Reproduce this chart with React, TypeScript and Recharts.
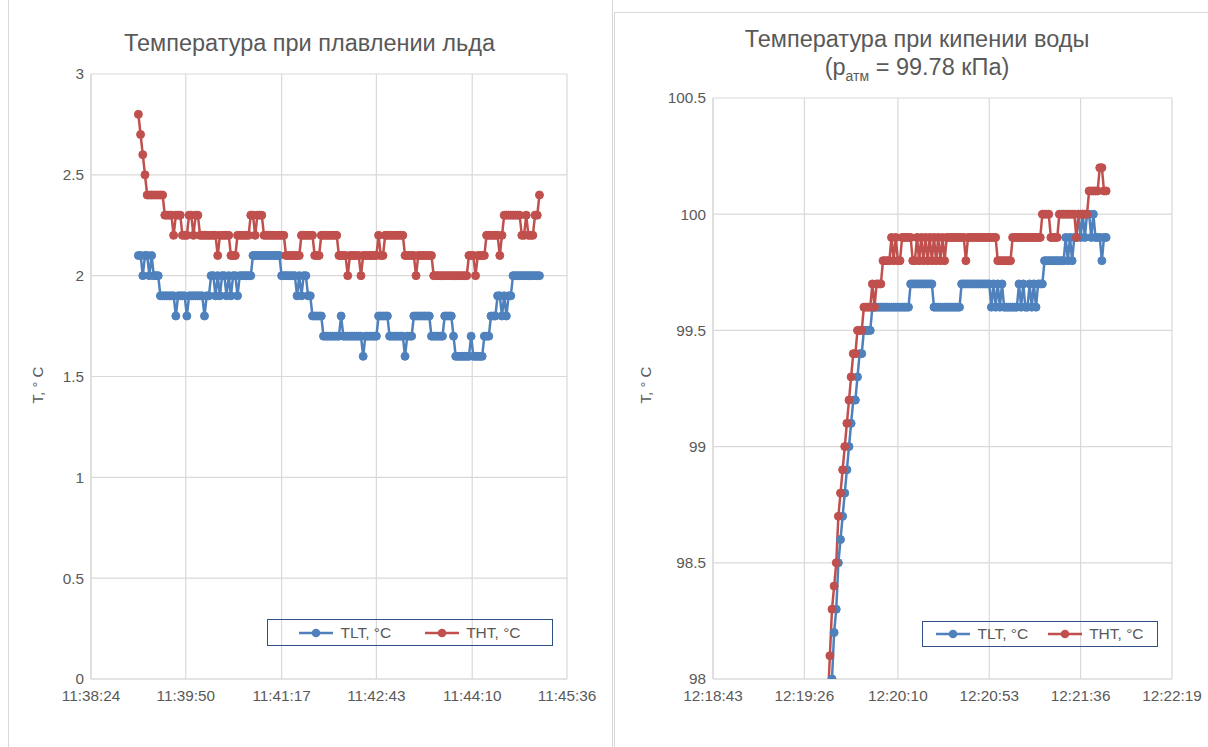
import React from 'react';
import { CartesianGrid, Legend, Line, LineChart, XAxis, YAxis } from 'recharts';

const BLUE = '#4F81BD';
const RED = '#C0504D';
const GRID = '#D9D9D9';
const TEXT = '#595959';
const FONT = '"Liberation Sans", Arial, sans-serif';

// --- ice melting (left chart), logger sampled every 2 s ---
const iceStart = '11:39:07';
const iceStepSec = 2;
const iceTimeTicks = ['11:38:24', '11:39:50', '11:41:17', '11:42:43', '11:44:10', '11:45:36'];
const iceTempTicks = [0, 0.5, 1, 1.5, 2, 2.5, 3];
// [temperature, number of consecutive samples]
const iceTLT: [number, number][] = [
  [2.1, 2], [2.0, 1], [2.1, 2], [2.0, 1], [2.1, 1], [2.0, 3], [1.9, 7], [1.8, 1], [1.9, 4],
  [1.8, 1], [1.9, 7], [1.8, 1], [1.9, 2], [2.0, 2], [1.9, 1], [2.0, 1], [1.9, 1], [2.0, 2],
  [1.9, 1], [2.0, 1], [1.9, 1], [2.0, 2], [1.9, 1], [2.0, 6], [2.1, 13], [2.0, 7], [1.9, 1],
  [2.0, 1], [1.9, 1], [2.0, 2], [1.9, 2], [1.8, 5], [1.7, 8], [1.8, 1], [1.7, 9], [1.6, 1],
  [1.7, 6], [1.8, 5], [1.7, 7], [1.6, 1], [1.7, 3], [1.8, 8], [1.7, 6], [1.8, 4], [1.7, 1],
  [1.6, 7], [1.7, 1], [1.6, 5], [1.7, 3], [1.8, 3], [1.9, 2], [1.8, 1], [1.9, 1], [1.8, 1],
  [1.9, 2], [2.0, 13],
];
const iceTHT: [number, number][] = [
  [2.8, 1], [2.7, 1], [2.6, 1], [2.5, 1], [2.4, 8], [2.3, 4], [2.2, 1], [2.3, 3], [2.2, 3],
  [2.3, 2], [2.2, 1], [2.3, 2], [2.2, 8], [2.1, 1], [2.2, 5], [2.1, 3], [2.2, 6], [2.3, 2],
  [2.2, 1], [2.3, 3], [2.2, 10], [2.1, 7], [2.2, 6], [2.1, 3], [2.2, 8], [2.1, 4], [2.0, 1],
  [2.1, 5], [2.0, 1], [2.1, 7], [2.2, 1], [2.1, 2], [2.2, 9], [2.1, 5], [2.0, 1], [2.1, 7],
  [2.0, 16], [2.1, 3], [2.0, 1], [2.1, 4], [2.2, 6], [2.1, 1], [2.2, 1], [2.3, 8], [2.2, 2],
  [2.3, 1], [2.2, 3], [2.3, 2], [2.4, 1],
];

// --- water boiling (right chart), logger sampled every 1 s ---
const boilStart = '12:19:37';
const boilStepSec = 1;
const boilTimeTicks = ['12:18:43', '12:19:26', '12:20:10', '12:20:53', '12:21:36', '12:22:19'];
const boilTempTicks = [98, 98.5, 99, 99.5, 100, 100.5];
const boilTLT: [number, number][] = [
  [97.8, 1], [97.9, 1], [98.0, 1], [98.2, 1], [98.3, 1], [98.5, 1], [98.6, 1], [98.7, 1],
  [98.8, 1], [98.9, 1], [99.0, 1], [99.1, 1], [99.2, 2], [99.3, 1], [99.4, 2], [99.5, 4],
  [99.6, 18], [99.7, 11], [99.6, 13], [99.7, 14], [99.6, 1], [99.7, 1], [99.6, 1], [99.7, 1],
  [99.6, 1], [99.7, 1], [99.6, 7], [99.7, 1], [99.6, 1], [99.7, 1], [99.6, 2], [99.7, 1],
  [99.6, 1], [99.7, 1], [99.6, 1], [99.7, 3], [99.8, 10], [99.9, 1], [99.8, 1], [99.9, 1],
  [99.8, 1], [99.9, 2], [100.0, 1], [99.9, 1], [100.0, 1], [99.9, 1], [100.0, 2], [99.9, 1],
  [100.0, 1], [99.9, 3], [99.8, 1], [99.9, 2],
];
const boilTHT: [number, number][] = [
  [97.9, 1], [98.1, 1], [98.3, 1], [98.4, 1], [98.5, 1], [98.7, 1], [98.8, 1], [98.9, 1],
  [99.0, 1], [99.1, 1], [99.2, 1], [99.3, 1], [99.4, 2], [99.5, 3], [99.6, 4], [99.7, 1],
  [99.6, 1], [99.7, 3], [99.8, 4], [99.9, 1], [99.8, 1], [99.9, 1], [99.8, 2], [99.9, 5],
  [99.8, 2], [99.9, 1], [99.8, 1], [99.9, 1], [99.8, 1], [99.9, 1], [99.8, 1], [99.9, 1],
  [99.8, 1], [99.9, 1], [99.8, 1], [99.9, 1], [99.8, 1], [99.9, 1], [99.8, 1], [99.9, 9],
  [99.8, 1], [99.9, 14], [99.8, 7], [99.9, 14], [100.0, 4], [99.9, 4], [100.0, 8], [99.9, 1],
  [100.0, 5], [100.1, 5], [100.2, 2], [100.1, 2],
];

const seriesNames = { tlt: 'TLT, °C', tht: 'THT, °C' };

const toSec = (s: string) => {
  const [h, m, sec] = s.split(':').map(Number);
  return h * 3600 + m * 60 + sec;
};
const pad = (n: number) => n.toString().padStart(2, '0');
const fmtTime = (v: number) => {
  const r = Math.round(v);
  return `${Math.floor(r / 3600)}:${pad(Math.floor((r % 3600) / 60))}:${pad(r % 60)}`;
};
const unroll = (runs: [number, number][]) => runs.flatMap(([v, n]) => Array(n).fill(v) as number[]);

function buildRows(start: string, step: number, tlt: [number, number][], tht: [number, number][]) {
  const a = unroll(tlt);
  const b = unroll(tht);
  const t0 = toSec(start);
  const n = Math.max(a.length, b.length);
  return Array.from({ length: n }, (_, i) => ({ t: t0 + i * step, tlt: a[i], tht: b[i] }));
}

const iceRows = buildRows(iceStart, iceStepSec, iceTLT, iceTHT);
const boilRows = buildRows(boilStart, boilStepSec, boilTLT, boilTHT);

const tickStyle = { fill: TEXT, fontSize: 15.3, fontFamily: FONT };

function LegendMark({ color }: { color: string }) {
  return (
    <svg width={34} height={12} style={{ display: 'block' }}>
      <line x1={0} y1={6} x2={34} y2={6} stroke={color} strokeWidth={2.5} />
      <circle cx={17} cy={6} r={4.3} fill={color} />
    </svg>
  );
}

function LegendBox({ gap }: { gap: number }) {
  const items = [
    { color: BLUE, label: seriesNames.tlt },
    { color: RED, label: seriesNames.tht },
  ];
  return (
    <div
      style={{
        boxSizing: 'border-box',
        width: '100%',
        height: '100%',
        border: '1.5px solid #2F4F86',
        display: 'flex',
        alignItems: 'center',
        justifyContent: 'center',
        gap,
        fontFamily: FONT,
        fontSize: 15.5,
        color: TEXT,
      }}
    >
      {items.map((it) => (
        <div key={it.label} style={{ display: 'flex', alignItems: 'center', gap: 7 }}>
          <LegendMark color={it.color} />
          <span>{it.label}</span>
        </div>
      ))}
    </div>
  );
}

interface ChartProps {
  rows: { t: number; tlt?: number; tht?: number }[];
  timeTicks: string[];
  tempTicks: number[];
  width: number;
  height: number;
  margin: { top: number; right: number; bottom: number; left: number };
  legend: { left: number; top: number; width: number; height: number; gap: number };
}

function TempChart({ rows, timeTicks, tempTicks, width, height, margin, legend }: ChartProps) {
  const xTicks = timeTicks.map(toSec);
  return (
    <LineChart width={width} height={height} data={rows} margin={margin}>
      <CartesianGrid stroke={GRID} strokeWidth={1.2} />
      <XAxis
        dataKey="t"
        type="number"
        domain={[xTicks[0], xTicks[xTicks.length - 1]]}
        ticks={xTicks}
        interval={0}
        allowDataOverflow
        tickFormatter={fmtTime}
        axisLine={{ stroke: GRID, strokeWidth: 1.2 }}
        tickLine={false}
        tickMargin={5}
        tick={tickStyle}
        height={30}
      />
      <YAxis
        type="number"
        domain={[tempTicks[0], tempTicks[tempTicks.length - 1]]}
        ticks={tempTicks}
        interval={0}
        allowDataOverflow
        axisLine={{ stroke: GRID, strokeWidth: 1.2 }}
        tickLine={false}
        tickSize={4}
        tickMargin={3}
        tick={tickStyle}
        width={60}
      />
      {/* verticalAlign middle keeps the legend from shrinking the plot area */}
      <Legend
        layout="horizontal"
        verticalAlign="middle"
        content={() => <LegendBox gap={legend.gap} />}
        wrapperStyle={{ left: legend.left, top: legend.top, width: legend.width, height: legend.height }}
      />
      <Line
        type="linear"
        dataKey="tlt"
        name={seriesNames.tlt}
        stroke={BLUE}
        strokeWidth={2.5}
        dot={{ r: 4, fill: BLUE, stroke: BLUE, strokeWidth: 1 }}
        isAnimationActive={false}
      />
      <Line
        type="linear"
        dataKey="tht"
        name={seriesNames.tht}
        stroke={RED}
        strokeWidth={2.5}
        dot={{ r: 4, fill: RED, stroke: RED, strokeWidth: 1 }}
        isAnimationActive={false}
      />
    </LineChart>
  );
}

const titleStyle: React.CSSProperties = {
  position: 'absolute',
  fontFamily: FONT,
  fontSize: 23.5,
  color: TEXT,
  textAlign: 'center',
  lineHeight: '28px',
  whiteSpace: 'nowrap',
};

const axisLabelStyle: React.CSSProperties = {
  position: 'absolute',
  fontFamily: FONT,
  fontSize: 15,
  color: TEXT,
  transform: 'translate(-50%, -50%) rotate(-90deg)',
  whiteSpace: 'nowrap',
};

export default function App() {
  return (
    <div
      style={{
        position: 'fixed',
        left: 0,
        top: 0,
        width: 1208,
        height: 747,
        background: '#fff',
        overflow: 'hidden',
      }}
    >
      {/* left card */}
      <div
        style={{
          position: 'absolute',
          left: 8,
          top: -2,
          width: 603,
          height: 770,
          border: '1px solid #D9D9D9',
        }}
      />
      {/* right card */}
      <div
        style={{
          position: 'absolute',
          left: 614,
          top: 12,
          width: 610,
          height: 770,
          border: '1px solid #D9D9D9',
        }}
      />

      <div style={{ position: 'absolute', left: 0, top: 0 }}>
        <TempChart
          rows={iceRows}
          timeTicks={iceTimeTicks}
          tempTicks={iceTempTicks}
          width={612}
          height={747}
          margin={{ top: 74, right: 45, bottom: 38, left: 31 }}
          legend={{ left: 267, top: 619, width: 286, height: 27, gap: 34 }}
        />
      </div>
      <div style={{ ...titleStyle, left: 8, width: 603, top: 29 }}>Температура при плавлении льда</div>
      <div style={{ ...axisLabelStyle, left: 37, top: 385 }}>T, ° C</div>

      <div style={{ position: 'absolute', left: 614, top: 0 }}>
        <TempChart
          rows={boilRows}
          timeTicks={boilTimeTicks}
          tempTicks={boilTempTicks}
          width={594}
          height={747}
          margin={{ top: 98, right: 36, bottom: 38, left: 39 }}
          legend={{ left: 308, top: 621, width: 236, height: 26, gap: 20 }}
        />
      </div>
      <div style={{ ...titleStyle, left: 614, width: 606, top: 25 }}>
        Температура при кипении воды
        <br />
        (p<sub style={{ fontSize: 14, verticalAlign: 'sub', lineHeight: 0 }}>атм</sub> = 99.78 кПа)
      </div>
      <div style={{ ...axisLabelStyle, left: 645, top: 385 }}>T, ° C</div>
    </div>
  );
}
